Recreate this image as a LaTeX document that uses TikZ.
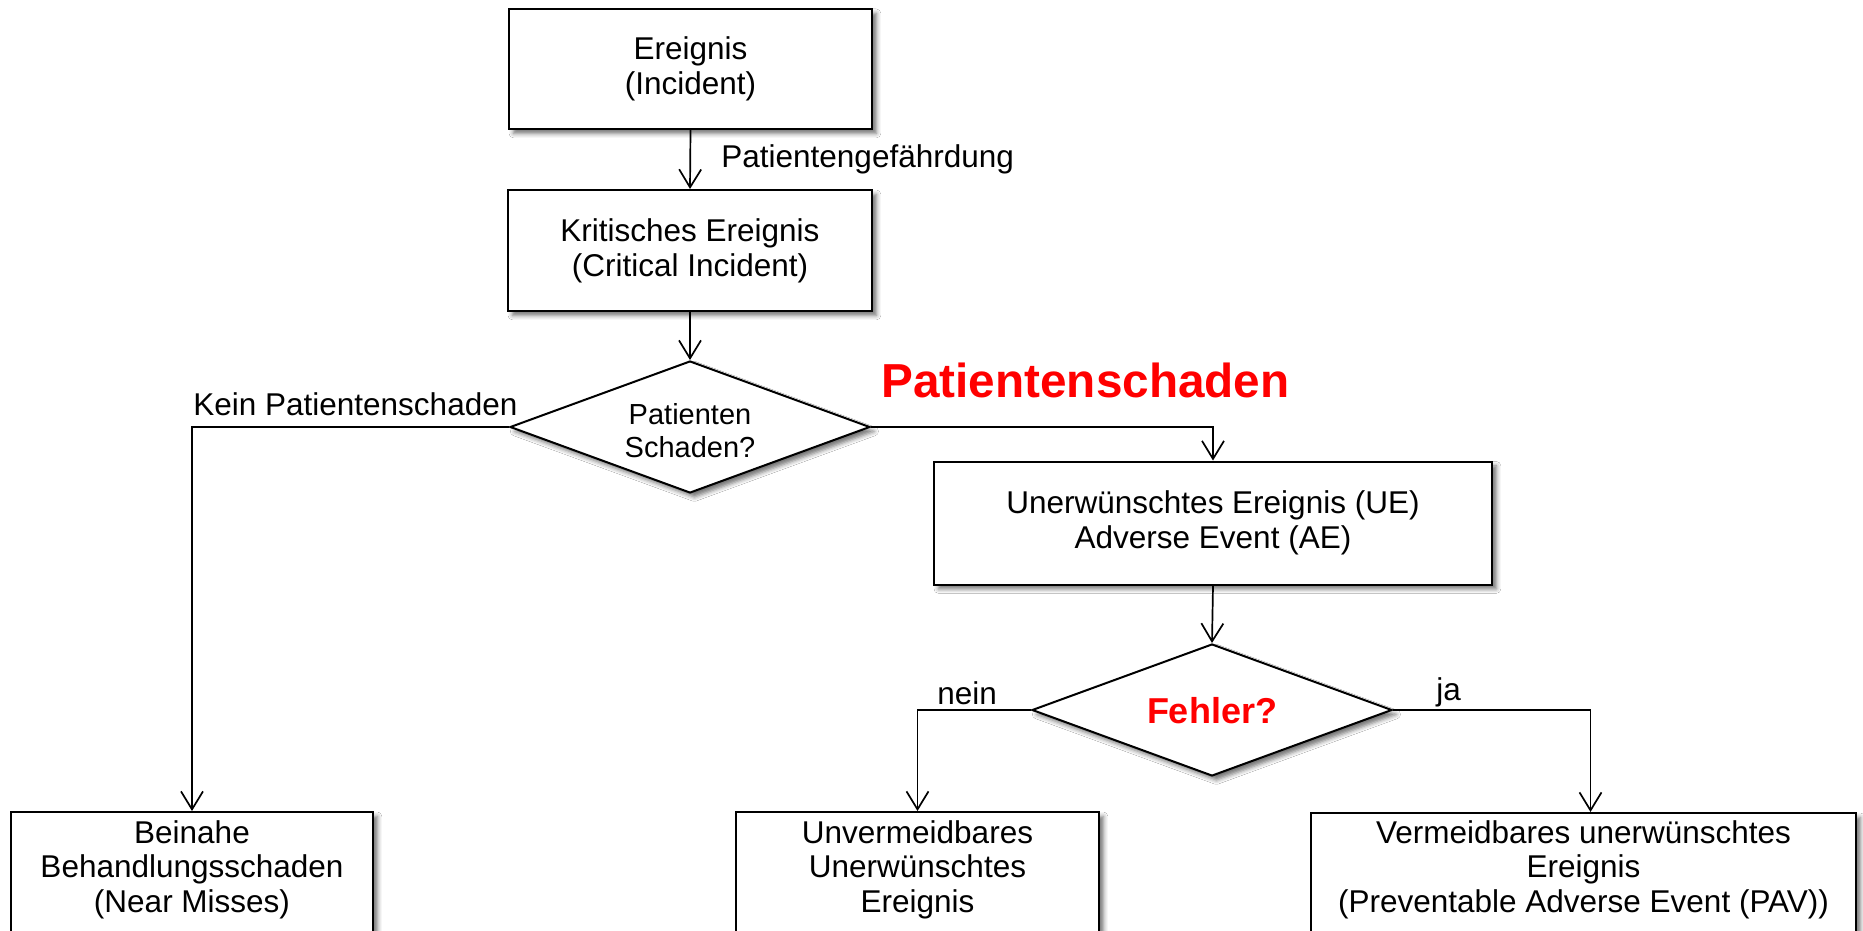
\documentclass[tikz,border=0pt]{standalone}
\usepackage{fontspec}
\setmainfont{Liberation Sans}
\usetikzlibrary{shapes.geometric,arrows.meta,shadows.blur}
\begin{document}
\begin{tikzpicture}[x=0.5pt,y=-0.5pt,
  shd/.style={blur shadow={shadow xshift=2.2pt,shadow yshift=-2.2pt,shadow blur radius=2.2pt,shadow opacity=55}},
  box/.style={draw,line width=1pt,fill=white,rectangle,inner sep=0pt,align=center,
    font=\fontsize{15.75pt}{17.5pt}\selectfont,shd},
  dia/.style={draw,line width=1pt,fill=white,diamond,inner sep=0pt,
    minimum width=180pt,minimum height=66pt,shd},
  dtxt/.style={inner sep=0pt,align=center},
  arr/.style={line width=0.85pt,-{Straight Barb[length=9pt,width=11pt,line width=0.85pt]}},
  lbl/.style={inner sep=0pt,font=\fontsize{15.75pt}{17.5pt}\selectfont,anchor=base west},
  btxt/.style={inner sep=0pt,align=center,font=\fontsize{15.75pt}{17.25pt}\selectfont,anchor=north}
]
\useasboundingbox (0,0) rectangle (1863,931);
\fill[white] (0,0) rectangle (1863,931);
\clip (0,0) rectangle (1863,931);

% nodes
\node[box,minimum width=181.5pt,minimum height=60pt] (inc) at (690.5,69) {Ereignis\\(Incident)};
\node[box,minimum width=182pt,minimum height=60.5pt] (ci) at (690,250.5) {Kritisches Ereignis\\(Critical Incident)};
\node[dia] (ps) at (690,427) {};
\node[dtxt,font=\fontsize{14.5pt}{16.5pt}\selectfont] (pst) at (690,431) {Patienten\\Schaden?};
\node[box,minimum width=279pt,minimum height=61.5pt] (ue) at (1213,523) {Unerwünschtes Ereignis (UE)\\Adverse Event (AE)};
\node[dia] (fe) at (1212,710) {};
\node[dtxt,font=\bfseries\fontsize{18pt}{20pt}\selectfont,text=red] (fet) at (1212,711) {Fehler?};

\node[box,minimum width=181pt,minimum height=80pt,anchor=north] (nm) at (192,811) {};
\node[btxt] (nmt) at (192,820) {Beinahe\\Behandlungsschaden\\(Near Misses)};
\node[box,minimum width=181.5pt,minimum height=80pt,anchor=north] (ua) at (917.5,811) {};
\node[btxt] (uat) at (917.5,820) {Unvermeidbares\\Unerwünschtes\\Ereignis};
\node[box,minimum width=272.5pt,minimum height=80pt,anchor=north] (va) at (1583.5,812) {};
\node[btxt] (vat) at (1583.5,820) {Vermeidbares unerwünschtes\\Ereignis\\(Preventable Adverse Event (PAV))};

% labels
\node[lbl] (pg) at (721,168) {Patientengefährdung};
\node[lbl] (kp) at (193,415) {Kein Patientenschaden};
\node[lbl,font=\bfseries\fontsize{23.85pt}{26pt}\selectfont,text=red] (psl) at (881,397) {Patientenschaden};
\node[lbl] (nein) at (937,704) {nein};
\node[lbl] (ja) at (1436,700) {ja};

% connectors
\draw[arr] (inc.south) -- (ci.north);
\draw[arr] (ci.south) -- (ps.north);
\draw[arr] (ps.west) -| (nm.north);
\draw[arr] (ps.east) -| (ue.north);
\draw[arr] (ue.south) -- (fe.north);
\draw[arr] (fe.west) -| (ua.north);
\draw[arr] (fe.east) -| ([xshift=3.5pt]va.north);
\end{tikzpicture}
\end{document}
